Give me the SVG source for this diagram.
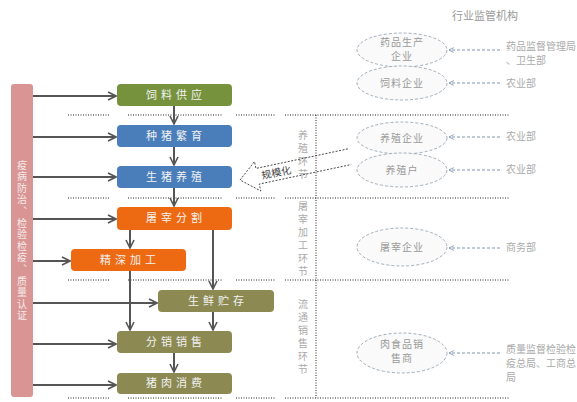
<svg xmlns="http://www.w3.org/2000/svg" width="577" height="402" viewBox="0 0 577 402">
<defs>
<style>
.t{font-family:"Noto Sans CJK SC","Liberation Sans",sans-serif;}
.box text{font-size:11px;fill:#f2f2f2;text-anchor:middle;letter-spacing:4px;}
.arr{stroke:#555;stroke-width:2;fill:none;marker-end:url(#ah);}
.sep{stroke:#222;stroke-width:1;stroke-dasharray:1 1.5;fill:none;}
.ell{fill:#fafafa;stroke:#8a9aaa;stroke-width:0.8;stroke-dasharray:3 2;}
.et{font-size:10px;fill:#999;text-anchor:middle;letter-spacing:1px;}
.rl{font-size:10px;fill:#aaa;}
.dl{stroke:#7f96b0;stroke-width:1;stroke-dasharray:3 2;fill:none;marker-end:url(#ah2);}
.ph{font-size:10px;fill:#aaa;writing-mode:vertical-rl;text-anchor:middle;letter-spacing:3px;}
.vb{font-size:10px;fill:#f5eaea;writing-mode:vertical-rl;text-anchor:middle;letter-spacing:1.6px;}
</style>
<marker id="ah" viewBox="0 0 10 10" refX="9" refY="5" markerWidth="5" markerHeight="5" orient="auto" markerUnits="strokeWidth">
<path d="M1,1 L9,5 L1,9" fill="none" stroke="#555" stroke-width="1.6"/>
</marker>
<marker id="ah2" viewBox="0 0 10 10" refX="9" refY="5" markerWidth="6" markerHeight="6" orient="auto" markerUnits="strokeWidth">
<path d="M1,1 L9,5 L1,9" fill="none" stroke="#7f96b0" stroke-width="1.5"/>
</marker>
</defs>
<rect width="577" height="402" fill="#fff"/>

<g id="separators">
<path class="sep" d="M68,115 H110 M128,115 H222 M236,115 H275 M285,115 H510"/>
<path class="sep" d="M68,198 H110 M128,198 H222 M236,198 H275 M285,198 H510"/>
<path class="sep" d="M68,280 H110 M128,280 H222 M236,280 H275 M285,280 H510"/>
<path class="sep" d="M68,398 H110 M128,398 H222 M236,398 H275 M285,398 H510"/>
<path class="sep" d="M316,115 V398"/>
</g>

<g id="phase-labels" class="t">
<text class="ph" x="303" y="156">养殖环节</text>
<text class="ph" x="303" y="240">屠宰加工环节</text>
<text class="ph" x="303" y="338">流通销售环节</text>
</g>

<g id="left-bar">
<rect x="11" y="84" width="22" height="313" rx="3" fill="#d99594"/>
<text class="t vb" x="22" y="241">疫病防治、检验检疫、质量认证</text>
</g>

<g id="connectors">
<path class="arr" d="M33,96 H116"/>
<path class="arr" d="M33,137 H116"/>
<path class="arr" d="M33,177 H116"/>
<path class="arr" d="M33,219 H116"/>
<path class="arr" d="M33,261 H70"/>
<path class="arr" d="M33,303 H157"/>
<path class="arr" d="M33,344 H116"/>
<path class="arr" d="M33,385 H116"/>
<path class="arr" d="M174,106 V124"/>
<path class="arr" d="M174,147 V165"/>
<path class="arr" d="M174,188 V206"/>
<path class="arr" d="M130,230 V248"/>
<path class="arr" d="M213,230 V289"/>
<path class="arr" d="M130,271 V330"/>
<path class="arr" d="M213,312 V330"/>
<path class="arr" d="M174,353 V372"/>
</g>

<g id="n-feed" class="box t"><rect x="117" y="84" width="115" height="22" rx="4" fill="#76923c"/><text x="176" y="99">饲料供应</text></g>
<g id="n-breed" class="box t"><rect x="117" y="125" width="115" height="22" rx="4" fill="#4a7ebb"/><text x="176" y="140">种猪繁育</text></g>
<g id="n-raise" class="box t"><rect x="117" y="166" width="115" height="22" rx="4" fill="#4a7ebb"/><text x="176" y="181">生猪养殖</text></g>
<g id="n-slaughter" class="box t"><rect x="117" y="207" width="115" height="23" rx="4" fill="#ee6a12"/><text x="176" y="222">屠宰分割</text></g>
<g id="n-process" class="box t"><rect x="71" y="249" width="115" height="22" rx="4" fill="#ee6a12"/><text x="130" y="264">精深加工</text></g>
<g id="n-fresh" class="box t"><rect x="158" y="290" width="116" height="22" rx="4" fill="#8c8a52"/><text x="218" y="305">生鲜贮存</text></g>
<g id="n-sale" class="box t"><rect x="117" y="331" width="115" height="22" rx="4" fill="#8c8a52"/><text x="176" y="346">分销销售</text></g>
<g id="n-consume" class="box t"><rect x="117" y="373" width="115" height="21" rx="4" fill="#8c8a52"/><text x="176" y="387">猪肉消费</text></g>

<g id="big-arrow" transform="translate(240,180) rotate(-12)">
<polyline points="112,-8 18,-8 18,-15 0,0 18,15 18,8 112,8" fill="none" stroke="#444" stroke-width="0.9" stroke-dasharray="2 1.5"/>
<text class="t" x="22" y="4" style="font-size:10px;fill:#444;">规模化</text>
</g>

<text class="t" x="485" y="20" style="font-size:11px;fill:#999;text-anchor:middle;">行业监管机构</text>

<g id="e-drug" class="t"><ellipse class="ell" cx="402" cy="50" rx="45" ry="17"/><text class="et" x="402" y="46">药品生产</text><text class="et" x="402" y="60">企业</text></g>
<g id="e-feedco" class="t"><ellipse class="ell" cx="402" cy="83" rx="45" ry="17"/><text class="et" x="402" y="87">饲料企业</text></g>
<g id="e-farmco" class="t"><ellipse class="ell" cx="402" cy="138" rx="45" ry="16"/><text class="et" x="402" y="142">养殖企业</text></g>
<g id="e-farmer" class="t"><ellipse class="ell" cx="402" cy="170" rx="45" ry="17"/><text class="et" x="402" y="174">养殖户</text></g>
<g id="e-slaughterco" class="t"><ellipse class="ell" cx="402" cy="247" rx="45" ry="19"/><text class="et" x="402" y="251">屠宰企业</text></g>
<g id="e-seller" class="t"><ellipse class="ell" cx="402" cy="353" rx="45" ry="20"/><text class="et" x="402" y="348">肉食品销</text><text class="et" x="402" y="362">售商</text></g>

<g id="reg-connectors">
<path class="dl" d="M500,50 H449"/>
<path class="dl" d="M500,83 H449"/>
<path class="dl" d="M500,137 H449"/>
<path class="dl" d="M500,170 H449"/>
<path class="dl" d="M500,248 H449"/>
<path class="dl" d="M500,353 H449"/>
</g>

<g id="regulators" class="t">
<text class="rl" x="506" y="50">药品监督管理局</text>
<text class="rl" x="506" y="64">、卫生部</text>
<text class="rl" x="506" y="87">农业部</text>
<text class="rl" x="506" y="140">农业部</text>
<text class="rl" x="506" y="173">农业部</text>
<text class="rl" x="506" y="251">商务部</text>
<text class="rl" x="506" y="353">质量监督检验检</text>
<text class="rl" x="506" y="367">疫总局、工商总</text>
<text class="rl" x="506" y="381">局</text>
</g>
</svg>
